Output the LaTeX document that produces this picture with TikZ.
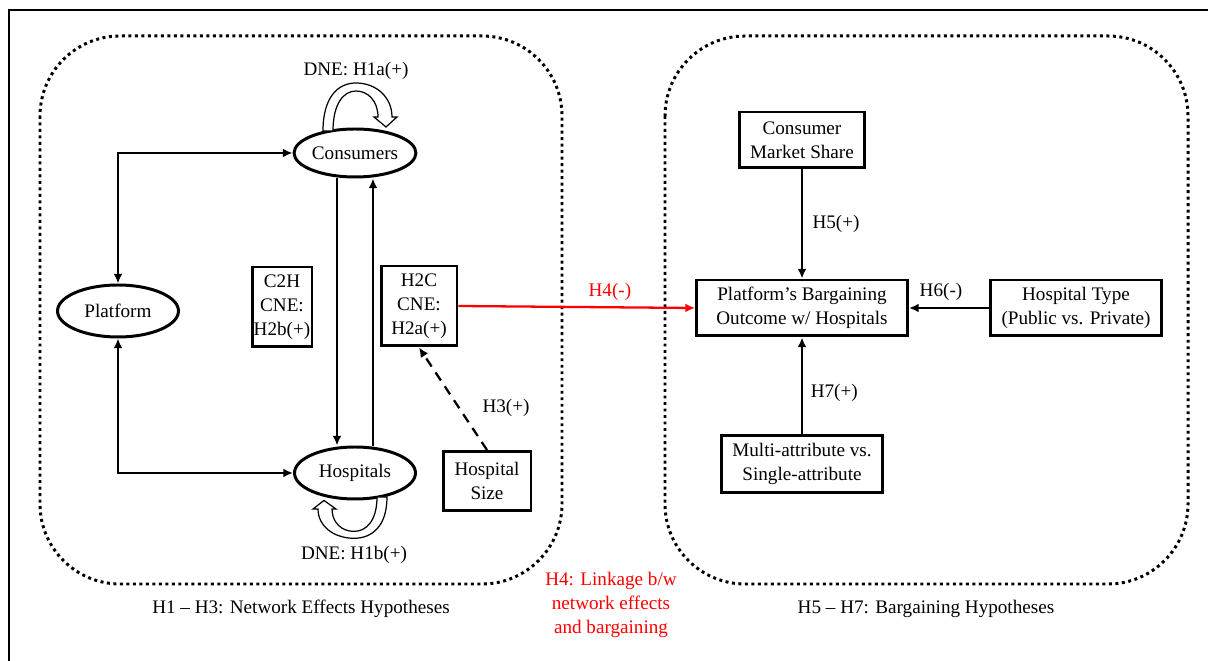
\documentclass[tikz,border=0pt]{standalone}
\usepackage{fontspec}
\setmainfont{Liberation Serif}
\usetikzlibrary{shapes.geometric, arrows.meta}

\begin{document}
\begin{tikzpicture}[x=0.02cm, y=-0.02cm, font=\fontsize{10.9}{13.5}\selectfont,
  >={Latex[length=5.5pt,width=5pt]},
  oval/.style={draw, ellipse, line width=1.7pt, inner sep=0pt, minimum width=2.42cm, minimum height=0.96cm},
  hyp/.style={draw, line width=1.7pt, align=center, inner sep=0pt, minimum height=1.12cm},
  link/.style={->, line width=1.3pt},
  group/.style={line width=1.7pt, dash pattern=on 1.7pt off 2pt, rounded corners=1.6cm},
  selfloop/.style={draw, fill=white, line width=0.7pt}]

\useasboundingbox (0,0) rectangle (1208,661);
\draw[line width=0.7pt] (9,661) -- (9,10) -- (1208,10);

% the two groups of hypotheses
\draw[group] (40,36) rectangle (562,584);
\draw[group] (665,36) rectangle (1188,584);

% network effects
\node[oval] (consumers) at (355,153) {Consumers};
\node[oval, minimum height=1.04cm] (hospitals) at (355,473) {Hospitals};
\node[oval, minimum height=1.04cm] (platform) at (118,311) {Platform};
\node[hyp, minimum width=1.2cm, minimum height=1.6cm] (c2h) at (282,307) {C2H\\CNE:\\H2b(+)};
\node[hyp, minimum width=1.52cm, minimum height=1.6cm] (h2c) at (419,306) {H2C\\CNE:\\H2a(+)};
\node[hyp, minimum width=1.76cm, minimum height=1.18cm] (hsize) at (487,481) {Hospital\\Size};

\draw[link, <->] (platform.north) |- (consumers.west);
\draw[link, <->] (platform.south) |- (hospitals.west);
\draw[link] ([xshift=-0.36cm]consumers.south) -- ([xshift=-0.36cm]hospitals.north);
\draw[link] ([xshift=0.36cm]hospitals.north) -- ([xshift=0.36cm]consumers.south);
\draw[link, dash pattern=on 5.5pt off 4pt] (hsize.north) -- (h2c.south);
\node (h3) at (506,408) {H3(+)};

% direct network effects (same-side loops)
\foreach \pos/\turn/\high in {{(356,131)}/0/1, {(354,497)}/180/0.86}
  \draw[selfloop, shift={\pos}, rotate=\turn, yscale=\high] (-33,0)
    .. controls (-33,-34) and (-18,-48) .. (0,-48)
    .. controls (20,-48) and (36,-34) .. (36,-14)
    -- (41,-14) -- (30,-4) -- (18,-14) -- (22,-14)
    .. controls (22,-30) and (12,-40) .. (0,-40)
    .. controls (-12,-40) and (-23,-28) .. (-23,0) -- cycle;
\node (h1a) at (356,71) {DNE: H1a(+)};
\node (h1b) at (354,555) {DNE: H1b(+)};

% bargaining
\node[hyp, minimum width=2.5cm] (share) at (802,140) {Consumer\\Market Share};
\node[hyp, minimum width=4.22cm] (outcome) at (802,308) {Platform’s Bargaining\\Outcome w/ Hospitals};
\node[hyp, minimum width=3.42cm] (htype) at (1076,308) {Hospital Type\\(Public vs. Private)};
\node[hyp, minimum width=3.22cm, minimum height=1.14cm] (attr) at (802,464) {Multi-attribute vs.\\Single-attribute};

\draw[link] (share) -- (outcome) node[midway, right=2pt] (h5) {H5(+)};
\draw[link] (htype) -- (outcome) node[pos=0.6, above] (h6) {H6(-)};
\draw[link] (attr) -- (outcome) node[pos=0.43, right=1pt] (h7) {H7(+)};
\draw[link, red] (h2c.east) -- (outcome.west) node[pos=0.64, above] (h4) {H4(-)};

% captions
\node (netcaption) at (301,609) {H1 – H3: Network Effects Hypotheses};
\node (bargcaption) at (926,609) {H5 – H7: Bargaining Hypotheses};
\node[text=red, align=center] (linkcaption) at (611,605) {H4: Linkage b/w\\network effects\\and bargaining};

\end{tikzpicture}
\end{document}
